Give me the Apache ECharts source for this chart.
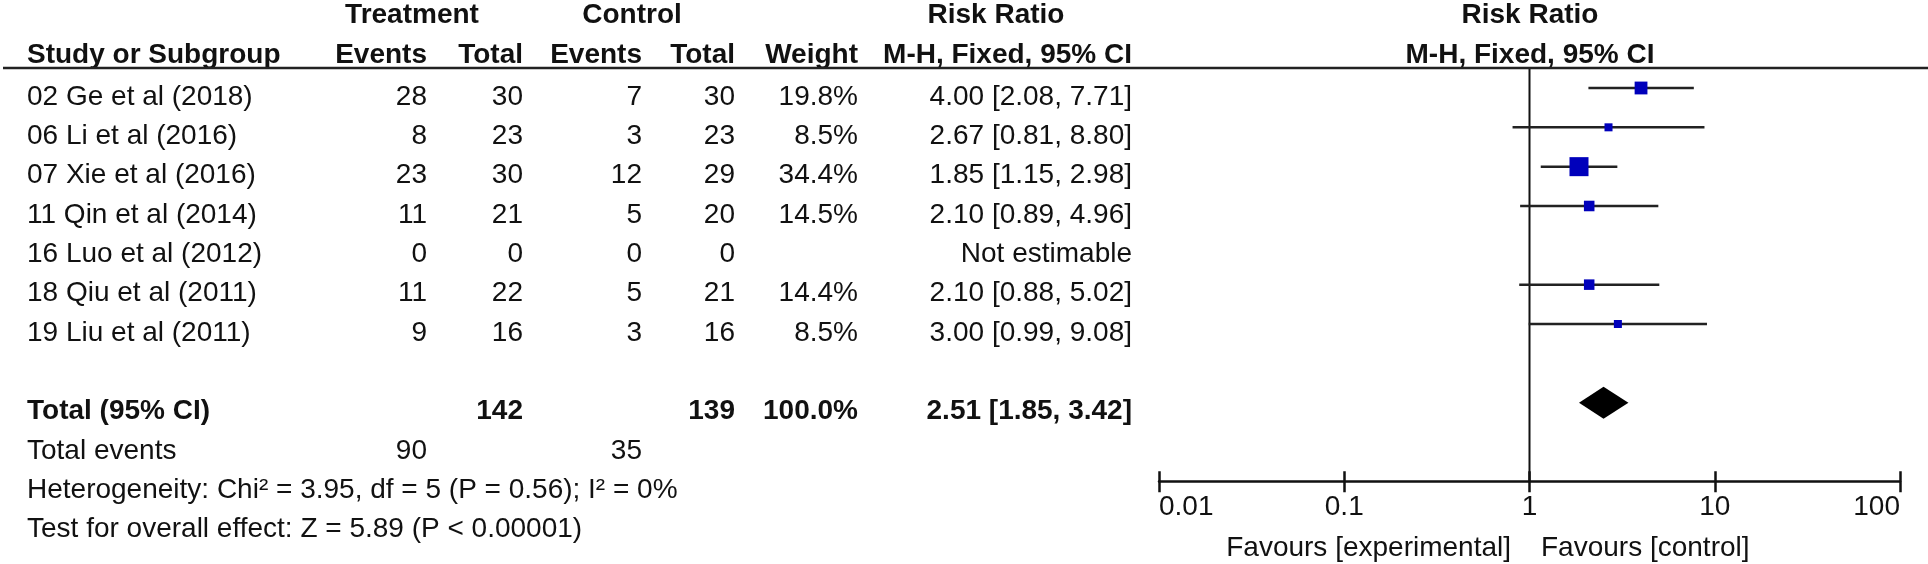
<!DOCTYPE html>
<html>
<head>
<meta charset="utf-8">
<script src="https://cdn.jsdelivr.net/npm/echarts@6/dist/echarts.min.js"></script>
<style>html,body{margin:0;padding:0;background:#fff;}#c{width:1928px;height:564px;}</style>
</head>
<body>
<div id="c"></div>
<script>
// ---- data ----
const studies = ['02 Ge et al (2018)', '06 Li et al (2016)', '07 Xie et al (2016)', '11 Qin et al (2014)', '16 Luo et al (2012)', '18 Qiu et al (2011)', '19 Liu et al (2011)'];
const trtEvents = [28, 8, 23, 11, 0, 11, 9];
const trtTotal = [30, 23, 30, 21, 0, 22, 16];
const ctrlEvents = [7, 3, 12, 5, 0, 5, 3];
const ctrlTotal = [30, 23, 29, 20, 0, 21, 16];
const weights = [19.8, 8.5, 34.4, 14.5, null, 14.4, 8.5];
const rr = [4.00, 2.67, 1.85, 2.10, null, 2.10, 3.00];
const ciLow = [2.08, 0.81, 1.15, 0.89, null, 0.88, 0.99];
const ciHigh = [7.71, 8.80, 2.98, 4.96, null, 5.02, 9.08];
const totalRR = [2.51, 1.85, 3.42];
const totalN = [142, 139];
const totalEvents = [90, 35];
const totalWeight = 100.0;
const tickLabels = ['0.01', '0.1', '1', '10', '100'];
const headerTop = ['Treatment', 'Control', 'Risk Ratio', 'Risk Ratio'];
const headerCols = ['Study or Subgroup', 'Events', 'Total', 'Events', 'Total', 'Weight', 'M-H, Fixed, 95% CI', 'M-H, Fixed, 95% CI'];
const footLines = ['Total events', 'Heterogeneity: Chi\u00b2 = 3.95, df = 5 (P = 0.56); I\u00b2 = 0%', 'Test for overall effect: Z = 5.89 (P < 0.00001)'];
const favours = ['Favours [experimental]', 'Favours [control]'];

// ---- layout ----
const FONT = '28px "Liberation Sans", Arial, sans-serif';
const BFONT = 'bold 28px "Liberation Sans", Arial, sans-serif';
const COL = {name: 27, te: 427, tt: 523, ce: 642, ct: 735, w: 858, rr: 1132, forest: 1530};
const TEXT_COLOR = '#111';

function fmtCI(a, l, h) { return a.toFixed(2) + ' [' + l.toFixed(2) + ', ' + h.toFixed(2) + ']'; }

const items = [];
function add(t, x, y, a, b) { items.push({t: String(t), x: x, y: y, a: a, b: !!b}); }

// headers
const H1 = -2.085, H2 = -1.068;
add(headerTop[0], 412, H1, 'center', true);
add(headerTop[1], 632, H1, 'center', true);
add(headerTop[2], 996, H1, 'center', true);
add(headerTop[3], COL.forest, H1, 'center', true);
add(headerCols[0], COL.name, H2, 'left', true);
add(headerCols[1], COL.te, H2, 'right', true);
add(headerCols[2], COL.tt, H2, 'right', true);
add(headerCols[3], COL.ce, H2, 'right', true);
add(headerCols[4], COL.ct, H2, 'right', true);
add(headerCols[5], COL.w, H2, 'right', true);
add(headerCols[6], COL.rr, H2, 'right', true);
add(headerCols[7], COL.forest, H2, 'center', true);

// study rows
studies.forEach((s, i) => {
  add(s, COL.name, i, 'left');
  add(trtEvents[i], COL.te, i, 'right');
  add(trtTotal[i], COL.tt, i, 'right');
  add(ctrlEvents[i], COL.ce, i, 'right');
  add(ctrlTotal[i], COL.ct, i, 'right');
  if (weights[i] != null) add(weights[i].toFixed(1) + '%', COL.w, i, 'right');
  add(rr[i] != null ? fmtCI(rr[i], ciLow[i], ciHigh[i]) : 'Not estimable', COL.rr, i, 'right');
});
const TOT = studies.length + 1;
add('Total (95% CI)', COL.name, TOT, 'left', true);
add(totalN[0], COL.tt, TOT, 'right', true);
add(totalN[1], COL.ct, TOT, 'right', true);
add(totalWeight.toFixed(1) + '%', COL.w, TOT, 'right', true);
add(fmtCI(totalRR[0], totalRR[1], totalRR[2]), COL.rr, TOT, 'right', true);
add(footLines[0], COL.name, TOT + 1, 'left');
add(totalEvents[0], COL.te, TOT + 1, 'right');
add(totalEvents[1], COL.ce, TOT + 1, 'right');
add(footLines[1], COL.name, TOT + 2, 'left');
add(footLines[2], COL.name, TOT + 3, 'left');
add(favours[0], 1511, 11.467, 'right');
add(favours[1], 1541, 11.467, 'left');

// forest data
const forestData = [];
rr.forEach((v, i) => { if (v != null) forestData.push([v, i, ciLow[i], ciHigh[i], weights[i]]); });

const chart = echarts.init(document.getElementById('c'), null, {renderer: 'canvas'});
chart.setOption({
  backgroundColor: '#fff',
  animation: false,
  grid: [
    {left: 1159, right: 28, top: 68.33, bottom: 82.7, containLabel: false, outerBoundsMode: 'none'},
    {left: 0, right: 0, top: 0, bottom: 0, containLabel: false, outerBoundsMode: 'none'}
  ],
  xAxis: [
    {type: 'log', logBase: 10, min: 0.01, max: 100, gridIndex: 0, position: 'bottom', offset: 0,
     axisLine: {show: true, onZero: false, lineStyle: {color: '#111', width: 2.5}},
     axisTick: {show: true, inside: false, length: 11, lineStyle: {color: '#111', width: 2.5}},
     axisLabel: {show: true, margin: 12, color: TEXT_COLOR, fontSize: 28, fontFamily: '"Liberation Sans", Arial, sans-serif',
       alignMinLabel: 'left', alignMaxLabel: 'right',
       formatter: function (v) { const k = Math.round(Math.log10(v)) + 2; return tickLabels[k] || ''; }},
     splitLine: {show: false}},
    {type: 'log', logBase: 10, min: 0.01, max: 100, gridIndex: 0, position: 'bottom', offset: 0,
     axisLine: {show: false, onZero: false},
     axisTick: {show: true, inside: true, length: 10, lineStyle: {color: '#111', width: 2.5}},
     axisLabel: {show: false}, splitLine: {show: false}},
    {type: 'value', min: 0, max: 1928, gridIndex: 1, show: false}
  ],
  yAxis: [
    {type: 'value', min: -0.5, max: 10, inverse: true, gridIndex: 0, show: false},
    {type: 'value', min: -2.466, max: 11.874, inverse: true, gridIndex: 1, show: false}
  ],
  graphic: [
    {type: 'line', shape: {x1: 3, y1: 68, x2: 1928, y2: 68}, style: {stroke: '#222', lineWidth: 2.5}, z: 10}
  ],
  series: [
    { // vertical line of no effect
      type: 'custom', xAxisIndex: 0, yAxisIndex: 0, data: [[1, 0]], clip: false, silent: true,
      renderItem: function (params, api) {
        const a = api.coord([1, -0.5]), b = api.coord([1, 10]);
        return {type: 'line', shape: {x1: a[0], y1: a[1], x2: b[0], y2: b[1]}, style: {stroke: '#111', lineWidth: 2}};
      }
    },
    { // study CIs and squares
      type: 'custom', xAxisIndex: 0, yAxisIndex: 0, data: forestData, clip: false, silent: true,
      encode: {x: 0, y: 1},
      renderItem: function (params, api) {
        const c = api.coord([api.value(0), api.value(1)]);
        const l = api.coord([api.value(2), api.value(1)]);
        const h = api.coord([api.value(3), api.value(1)]);
        const s = 4.4 + 0.425 * api.value(4);
        return {type: 'group', children: [
          {type: 'line', shape: {x1: l[0], y1: l[1], x2: h[0], y2: h[1]}, style: {stroke: '#222', lineWidth: 2.5}},
          {type: 'rect', shape: {x: c[0] - s / 2, y: c[1] - s / 2, width: s, height: s}, style: {fill: '#0000BB'}}
        ]};
      }
    },
    { // pooled diamond
      type: 'custom', xAxisIndex: 0, yAxisIndex: 0, data: [[totalRR[0], TOT, totalRR[1], totalRR[2]]], clip: false, silent: true,
      encode: {x: 0, y: 1},
      renderItem: function (params, api) {
        const c = api.coord([api.value(0), api.value(1)]);
        const l = api.coord([api.value(2), api.value(1)]);
        const h = api.coord([api.value(3), api.value(1)]);
        const hh = 16;
        return {type: 'polygon', shape: {points: [[l[0], c[1]], [c[0], c[1] - hh], [h[0], c[1]], [c[0], c[1] + hh]]}, style: {fill: '#000'}};
      }
    },
    { // table text
      type: 'custom', xAxisIndex: 2, yAxisIndex: 1, data: items.map(d => [d.x, d.y]), clip: false, silent: true,
      encode: {x: 0, y: 1},
      renderItem: function (params, api) {
        const it = items[params.dataIndex];
        const p = api.coord([api.value(0), api.value(1)]);
        return {type: 'text', x: p[0], y: p[1], style: {text: it.t, align: it.a, verticalAlign: 'middle', font: it.b ? BFONT : FONT, fill: TEXT_COLOR}};
      }
    }
  ]
});
</script>
</body>
</html>
